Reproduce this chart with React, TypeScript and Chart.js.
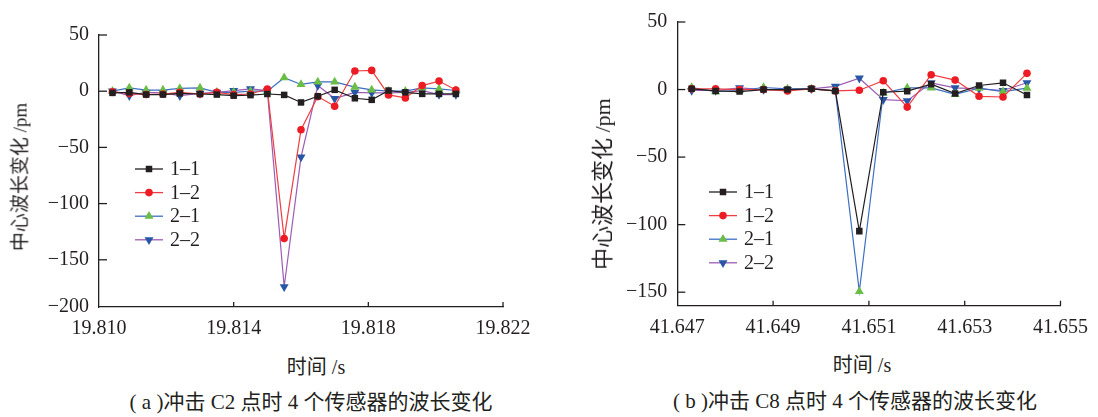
import React, { useEffect, useRef } from 'react';
import { Chart, registerables } from 'chart.js';

Chart.register(...registerables);

// ---------- data ----------
const seriesNames = ['1–1', '1–2', '2–1', '2–2'];

// (a) impact at C2
const timeA = [19.8104, 19.8109, 19.8114, 19.8119, 19.8124, 19.813, 19.8135, 19.814, 19.8145, 19.815, 19.8155, 19.816, 19.8165, 19.817, 19.8176, 19.8181, 19.8186, 19.8191, 19.8196, 19.8201, 19.8206];
const a11 = [-1.5, -1, -3, -3, -2, -2.5, -3, -4, -3.5, -2.5, -3.3, -10, -4.5, 1.2, -6.3, -7.7, 0.6, -1, -2.4, -2.4, -2.4];
const a12 = [-0.5, -2, -3, -2.5, -1, -2.5, -1, -3, -2.5, 2, -131, -34.3, -4.8, -13.4, 18, 18.5, -3.3, -6, 5, 9, 1];
const a21 = [0, 3, 1, 1, 2.5, 3, -1, -1, 0, 0, 12, 6, 8.3, 8.3, 3.7, 1.2, 0, 0, 3, 2, 0.6];
const a22 = [0, -4, -1, -1.5, -4, -2, -1, 0.5, 2, 0.5, -174, -58.6, 5, -6.5, -1, -1.5, -1.5, -1, 0.5, -3, -3];

const xTicksA = [19.81, 19.814, 19.818, 19.822];
const xTickLabelsA = ['19.810', '19.814', '19.818', '19.822'];
const yTicksA = [50, 0, -50, -100, -150, -192];
const yTickLabelsA = ['50', '0', '−50', '−100', '−150', '−200'];

// (b) impact at C8
const timeB = [41.6473, 41.6478, 41.6483, 41.6488, 41.6493, 41.6498, 41.6503, 41.6508, 41.6513, 41.6518, 41.6523, 41.6528, 41.6533, 41.6538, 41.6543];
const b11 = [0.5, -1, -1.5, 0, 0, 0.5, -1, -104.8, -2, -1.2, 4, -3, 3, 5, -4];
const b12 = [0.5, 0.5, 0, 0, -1, 0.5, -1, -0.5, 6.5, -13, 11, 7, -5, -5.5, 12];
const b21 = [1.5, -1.5, -0.7, 1.5, 0.5, 0.5, -1, -149.5, -2.5, 1.2, 1.2, -3.5, 1, -1.5, 1];
const b22 = [-0.7, -0.7, 1.2, 0, 0, 0.5, 2.4, 8.4, -7.5, -8.3, 5, 1.2, 0.5, -0.7, 5];

const xTicksB = [41.647, 41.649, 41.651, 41.653, 41.655];
const xTickLabelsB = ['41.647', '41.649', '41.651', '41.653', '41.655'];
const yTicksB = [50, 0, -50, -100, -150];
const yTickLabelsB = ['50', '0', '−50', '−100', '−150'];

const yTitle = '中心波长变化 /pm';
const xTitle = '时间 /s';
const captionA = '( a )冲击 C2 点时 4 个传感器的波长变化';
const captionB = '( b )冲击 C8 点时 4 个传感器的波长变化';

// ---------- styles ----------
const INK = '#231f20';
const SERIF = '"Liberation Serif", "Times New Roman", serif';
const MIXED = '"Liberation Serif", "Noto Sans CJK SC", serif';

const styles = [
  { line: '#231f20', point: '#231f20', shape: 'rect', radius: 4.6, rotation: 0 },
  { line: '#ef3e42', point: '#ed1c24', shape: 'circle', radius: 3.8, rotation: 0 },
  { line: '#3d6ec2', point: '#6abd45', shape: 'triangle', radius: 5.2, rotation: 0 },
  { line: '#9c5cb4', point: '#2856a6', shape: 'triangle', radius: 5.2, rotation: 180 },
];

function drawMarker(ctx: CanvasRenderingContext2D, shape: string, x: number, y: number, r: number, rotation: number) {
  ctx.beginPath();
  if (shape === 'rect') {
    const s = r * Math.SQRT1_2;
    ctx.rect(x - s, y - s, 2 * s, 2 * s);
  } else if (shape === 'circle') {
    ctx.arc(x, y, r, 0, Math.PI * 2);
  } else {
    const rad = (rotation * Math.PI) / 180;
    for (let k = 0; k < 3; k++) {
      const a = rad + (k * 2 * Math.PI) / 3;
      const px = x + Math.sin(a) * r;
      const py = y - Math.cos(a) * r;
      if (k === 0) ctx.moveTo(px, py);
      else ctx.lineTo(px, py);
    }
    ctx.closePath();
  }
  ctx.fill();
}

const insideTicks = {
  id: 'insideTicks',
  afterDraw(chart: any) {
    const { ctx, chartArea, scales } = chart;
    const xs = scales.x;
    const ys = scales.y;
    ctx.save();
    ctx.strokeStyle = INK;
    ctx.lineWidth = 1.3;
    xs.ticks.forEach((t: any) => {
      if (Math.abs(t.value - xs.min) < 1e-9) return;
      const px = xs.getPixelForValue(t.value);
      ctx.beginPath();
      ctx.moveTo(px, chartArea.bottom);
      ctx.lineTo(px, chartArea.bottom - 5);
      ctx.stroke();
    });
    ys.ticks.forEach((t: any) => {
      if (Math.abs(t.value - ys.min) < 1e-9) return;
      const py = ys.getPixelForValue(t.value);
      ctx.beginPath();
      ctx.moveTo(chartArea.left, py);
      ctx.lineTo(chartArea.left + 8, py);
      ctx.stroke();
    });
    ctx.restore();
  },
};

const lineLegend = {
  id: 'lineLegend',
  afterDraw(chart: any, _args: any, opts: any) {
    const { ctx, chartArea } = chart;
    const x0 = chartArea.left + opts.dx;
    const y0 = chartArea.top + opts.dy;
    ctx.save();
    ctx.font = `20px ${SERIF}`;
    ctx.textBaseline = 'middle';
    ctx.textAlign = 'left';
    chart.data.datasets.forEach((ds: any, i: number) => {
      const st = styles[i];
      const y = y0 + i * opts.rowGap;
      ctx.strokeStyle = st.line;
      ctx.lineWidth = 1.3;
      ctx.beginPath();
      ctx.moveTo(x0, y);
      ctx.lineTo(x0 + opts.lineLen, y);
      ctx.stroke();
      ctx.fillStyle = st.point;
      drawMarker(ctx, st.shape, x0 + opts.lineLen / 2, y, st.radius, st.rotation);
      ctx.fillStyle = INK;
      ctx.fillText(ds.label, x0 + opts.lineLen + 7, y + 1);
    });
    ctx.restore();
  },
};

type Cfg = {
  times: number[];
  series: number[][];
  xTicks: number[];
  xLabels: string[];
  yTicks: number[];
  yLabels: string[];
  xMin: number;
  xMax: number;
  yMin: number;
  yMax: number;
  yAxisWidth: number;
  xAxisHeight: number;
  padTop: number;
  padRight: number;
  legend: { dx: number; dy: number; rowGap: number; lineLen: number };
};

function lookup(values: number[], labels: string[], v: number) {
  const i = values.findIndex((t) => Math.abs(t - v) < 1e-9);
  return i >= 0 ? labels[i] : '';
}

function makeConfig(c: Cfg): any {
  return {
    type: 'line',
    data: {
      datasets: c.series.map((vals, i) => ({
        label: seriesNames[i],
        data: c.times.map((t, k) => ({ x: t, y: vals[k] })),
        borderColor: styles[i].line,
        backgroundColor: styles[i].point,
        pointBackgroundColor: styles[i].point,
        pointBorderColor: styles[i].point,
        pointBorderWidth: 0,
        pointStyle: styles[i].shape,
        pointRotation: styles[i].rotation,
        pointRadius: styles[i].radius,
        borderWidth: 1.2,
        tension: 0,
        fill: false,
      })),
    },
    options: {
      responsive: false,
      animation: false,
      devicePixelRatio: 1,
      layout: { padding: { left: 0, top: c.padTop, right: c.padRight, bottom: 0 } },
      plugins: {
        legend: { display: false },
        tooltip: { enabled: false },
        lineLegend: c.legend,
      },
      scales: {
        x: {
          type: 'linear',
          min: c.xMin,
          max: c.xMax,
          afterBuildTicks: (s: any) => {
            s.ticks = c.xTicks.map((v) => ({ value: v }));
          },
          afterFit: (s: any) => {
            s.height = c.xAxisHeight;
          },
          ticks: {
            callback: (v: number) => lookup(c.xTicks, c.xLabels, v),
            font: { family: SERIF, size: 20 },
            color: INK,
            padding: 10,
            maxRotation: 0,
            autoSkip: false,
          },
          grid: { display: false, drawTicks: false },
          border: { display: true, color: INK, width: 1.3 },
        },
        y: {
          type: 'linear',
          min: c.yMin,
          max: c.yMax,
          afterBuildTicks: (s: any) => {
            s.ticks = c.yTicks.map((v) => ({ value: v }));
          },
          afterFit: (s: any) => {
            s.width = c.yAxisWidth;
          },
          ticks: {
            callback: (v: number) => lookup(c.yTicks, c.yLabels, v),
            font: { family: SERIF, size: 20 },
            color: INK,
            padding: 10,
            autoSkip: false,
          },
          grid: { display: false, drawTicks: false },
          border: { display: true, color: INK, width: 1.3 },
        },
      },
    },
    plugins: [insideTicks, lineLegend],
  };
}

const CW = 549;
const CH = 345;

const cfgA: Cfg = {
  times: timeA,
  series: [a11, a12, a21, a22],
  xTicks: xTicksA,
  xLabels: xTickLabelsA,
  yTicks: yTicksA,
  yLabels: yTickLabelsA,
  xMin: 19.81,
  xMax: 19.822,
  yMin: -192,
  yMax: 50,
  yAxisWidth: 99,
  xAxisHeight: CH - 307,
  padTop: 35,
  padRight: CW - 503,
  legend: { dx: 36, dy: 134, rowGap: 23.6, lineLen: 28 },
};

const cfgB: Cfg = {
  times: timeB,
  series: [b11, b12, b21, b22],
  xTicks: xTicksB,
  xLabels: xTickLabelsB,
  yTicks: yTicksB,
  yLabels: yTickLabelsB,
  xMin: 41.647,
  xMax: 41.655,
  yMin: -160,
  yMax: 50,
  yAxisWidth: 128.3,
  xAxisHeight: CH - 305.7,
  padTop: 15.7,
  padRight: CW - 519.3,
  legend: { dx: 31.7, dy: 170, rowGap: 23.6, lineLen: 28 },
};

function ChartCanvas({ cfg, left }: { cfg: Cfg; left: number }) {
  const ref = useRef<HTMLCanvasElement | null>(null);
  useEffect(() => {
    if (!ref.current) return;
    const chart = new Chart(ref.current, makeConfig(cfg));
    return () => chart.destroy();
  }, [cfg]);
  return (
    <canvas
      ref={ref}
      width={CW}
      height={CH}
      style={{ position: 'absolute', left, top: 0, width: CW, height: CH }}
    />
  );
}

function Label({ text, x, y, size, rotate }: { text: string; x: number; y: number; size: number; rotate?: boolean }) {
  return (
    <div
      style={{
        position: 'absolute',
        left: x,
        top: y,
        transform: `translate(-50%, -50%)${rotate ? ' rotate(-90deg)' : ''}`,
        whiteSpace: 'nowrap',
        fontFamily: MIXED,
        fontSize: size,
        color: INK,
        lineHeight: 1,
      }}
    >
      {text}
    </div>
  );
}

export default function App() {
  return (
    <div
      style={{
        position: 'fixed',
        left: 0,
        top: 0,
        width: 1098,
        height: 417,
        background: '#ffffff',
        overflow: 'hidden',
      }}
    >
      <ChartCanvas cfg={cfgA} left={0} />
      <ChartCanvas cfg={cfgB} left={CW} />
      <Label text={yTitle} x={20} y={177} size={19} rotate />
      <Label text={yTitle} x={603} y={184} size={22} rotate />
      <Label text={xTitle} x={316} y={367} size={20} />
      <Label text={xTitle} x={862} y={365} size={20} />
      <Label text={captionA} x={311} y={402} size={21} />
      <Label text={captionB} x={855} y={401} size={21} />
    </div>
  );
}
